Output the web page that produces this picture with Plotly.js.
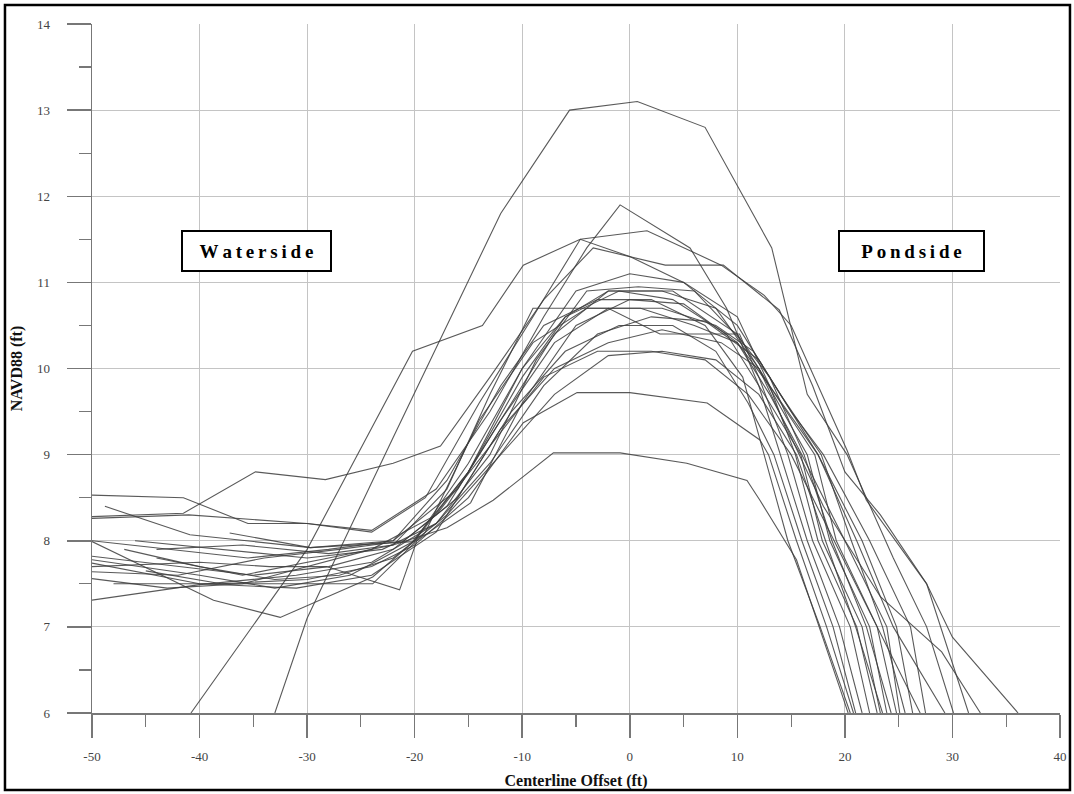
<!DOCTYPE html>
<html>
<head>
<meta charset="utf-8">
<script src="https://cdn.plot.ly/plotly-3.0.1.min.js"></script>
<style>html,body{margin:0;padding:0;background:#fff;}#chart{width:1074px;height:794px;}</style>
</head>
<body>
<div id="chart"></div>
<script>
// Cross-section profiles: x = centerline offset (ft), y = NAVD88 elevation (ft)
const p01x = [-33,-30,-22,-12,-5.6,0.7,7,13.2,16.5,20.2,24.5,27.6,30.1];
const p01y = [6.0,7.1,9.2,11.8,13.0,13.1,12.8,11.4,9.7,9.0,7.8,7.0,6.0];
const p02x = [-40.8,-30,-20.2,-13.7,-9.9,-4.6,1.6,5.9,8.5,12.5,15,20.2,22,27.6,30,36.1];
const p02y = [6.0,7.9,10.2,10.5,11.2,11.5,11.6,11.35,11.2,10.85,10.5,9.05,8.47,7.5,6.88,6.0];
const p03x = [-50,-41.5,-35.5,-30,-24,-18,-13,-8,-4,-0.9,5.6,9,12,14,16.5,19.5,21.6];
const p03y = [8.53,8.5,8.2,8.2,8.12,8.6,9.5,10.6,11.4,11.9,11.4,10.7,9.8,9.0,8.0,7.0,6.0];
const p04x = [-50,-41.5,-34.8,-28.3,-22,-17.6,-13,-8,-3.4,3.3,8.7,13.9,17,20,23.3,27.6,31.5];
const p04y = [8.28,8.32,8.8,8.71,8.9,9.1,9.9,10.8,11.4,11.2,11.2,10.68,9.8,8.8,8.3,7.5,6.0];
const p05x = [-50,-41,-30,-24,-19,-14,-9,-4.6,0,5,10,14,17.8,20.6,23.5,25.6];
const p05y = [8.26,8.3,8.2,8.1,8.5,9.6,10.6,11.5,11.3,11.0,10.5,9.7,9.0,8.0,7.0,6.0];
const p06x = [-48.8,-40.9,-29.7,-20.2,-15,-10,-5,0,5,10,13,15.4,17.5,21.1,23];
const p06y = [8.4,8.07,7.92,7.99,8.8,10.0,10.9,11.1,11.0,10.6,9.8,9.0,8.0,7.0,6.0];
const p07x = [-37.2,-29.7,-22,-16,-11,-7,-2,3,8,12,16.5,18.6,22.3,23.9];
const p07y = [8.09,7.92,8.0,8.6,9.6,10.4,10.9,10.9,10.7,10.0,9.0,8.0,7.0,6.0];
const p08x = [-50,-35.5,-28,-22,-17,-12,-8,-3,2,7,10.5,12.5,14.7,17.7,20.5];
const p08y = [8.0,7.8,7.9,8.0,8.7,9.8,10.5,10.8,10.8,10.5,9.9,9.0,8.0,7.0,6.0];
const p09x = [-50,-38.7,-32.5,-23.9,-20,-15,-10,-6,-1,4,9,13,15.9,17.9,21.6,23.3];
const p09y = [7.99,7.31,7.11,7.58,8.0,8.8,9.9,10.6,10.9,10.8,10.4,9.6,9.0,8.0,7.0,6.0];
const p10x = [-48,-23.9,-19,-14,-9,-4,1,6,10,13,16,20,23.9,25.1];
const p10y = [7.5,7.5,8.1,9.4,10.3,10.7,10.7,10.5,10.3,9.7,9.0,8.0,7.0,6.0];
const p11x = [-50,-42,-35,-28,-22,-17,-12,-7,-2,3,8,11.5,15,18,22.3,26.1,27.5];
const p11y = [7.82,7.7,7.6,7.7,7.9,8.4,9.4,10.3,10.7,10.7,10.5,10.2,9.5,9.0,8.0,7.0,6.0];
const p12x = [-50,-40,-33,-26,-20,-15,-10,-6,-2,4,10,13,17.5,21.6,24.8,26.3];
const p12y = [7.78,7.6,7.45,7.6,8.0,8.9,10.0,10.6,10.9,10.9,10.4,9.8,9.0,8.0,7.0,6.0];
const p13x = [-50,-40,-31,-24,-18,-12,-7,-2,3,8.5,12,15,18,23.3,29,32.6];
const p13y = [7.74,7.5,7.45,7.6,8.1,9.3,10.0,10.3,10.45,10.3,10.0,9.2,8.4,7.35,6.71,6.0];
const p14x = [-50,-42,-34,-27,-21,-16,-11,-6,-1,4,8,11,13.4,16,18.9,21];
const p14y = [7.64,7.6,7.8,7.9,8.0,8.5,9.5,10.2,10.5,10.5,10.2,9.6,9.0,8.0,7.0,6.0];
const p15x = [-50,-43,-36,-30,-24,-18,-13,-8,-3,2,7,11,15,19,23,27];
const p15y = [7.56,7.45,7.5,7.7,7.9,8.3,9.1,9.9,10.2,10.2,10.1,9.7,9.0,8.0,7.0,6.0];
const p16x = [-50,-40,-31,-24,-18,-13,-8,-3,2,7,12,15.5,17.5,21.1,24.5,29.3];
const p16y = [7.31,7.49,7.6,7.75,8.2,8.9,9.8,10.4,10.6,10.55,10.1,9.4,9.0,8.0,7.0,6.0];
const p17x = [-50,-40,-33.5,-28.2,-21.4,-19.8,-14.8,-10,-5,0,5,10,13,17.2,19.2,23,24.8];
const p17y = [7.7,7.75,7.7,7.7,7.43,8.0,8.44,9.6,10.5,10.8,10.75,10.3,9.8,9.0,8.0,7.0,6.0];
const p18x = [-45,-38,-30,-24,-20,-15,-9.9,-4.9,0,7.2,12.1,12.9,15.5,18.3,20.8];
const p18y = [7.65,7.5,7.55,7.7,7.95,8.5,9.37,9.72,9.72,9.6,9.17,9.0,8.0,7.0,6.0];
const p19x = [-44,-36,-28,-22,-17,-12.7,-7.1,-0.9,5.3,10.9,12.1,15.5,19.5,20.3];
const p19y = [7.8,7.6,7.8,7.95,8.15,8.47,9.02,9.02,8.9,8.7,8.47,7.78,6.3,6.0];
const p20x = [-47,-40,-33,-27,-22,-17,-12,-7,-2,3,8,12,15.5,18.2,21,23.5];
const p20y = [7.9,7.7,7.55,7.6,7.8,8.3,9.0,9.7,10.15,10.2,10.1,9.7,9.0,8.0,7.0,6.0];
const p21x = [-44,-36,-28,-22,-17,-13,-9,-2,2.8,10.2,12,14.7,17,20.5,22.3];
const p21y = [7.9,7.95,7.85,7.95,8.6,9.7,10.7,10.7,10.4,10.4,9.9,9.0,8.0,7.0,6.0];
const p22x = [-46,-38,-30,-23,-18,-13,-8.7,-4,0.8,6,10.2,13,16.2,18.8,22,24.3];
const p22y = [8.0,7.9,7.8,7.9,8.2,9.0,10.1,10.9,10.95,10.9,10.35,9.9,9.0,8.0,7.0,6.0];

const profiles = [
  [p01x,p01y],[p02x,p02y],[p03x,p03y],[p04x,p04y],[p05x,p05y],[p06x,p06y],
  [p07x,p07y],[p08x,p08y],[p09x,p09y],[p10x,p10y],[p11x,p11y],[p12x,p12y],
  [p13x,p13y],[p14x,p14y],[p15x,p15y],[p16x,p16y],[p17x,p17y],[p18x,p18y],
  [p19x,p19y],[p20x,p20y],[p21x,p21y],[p22x,p22y]
];

const xTicks = [-50,-40,-30,-20,-10,0,10,20,30,40];
const yTicks = [6,7,8,9,10,11,12,13,14];
const sideLabels = ['Waterside','Pondside'];

function spaced(s){ return s.split('').join('\u2009'); }

const traces = profiles.map(function(p){
  return {x:p[0], y:p[1], type:'scatter', mode:'lines',
          line:{color:'rgba(60,60,60,0.85)', width:1.1}, hoverinfo:'skip', showlegend:false};
});

const serif = 'Liberation Serif, Times New Roman, serif';
const layout = {
  width:1074, height:794,
  margin:{l:92, r:14, t:24, b:81},
  paper_bgcolor:'#fff', plot_bgcolor:'#fff',
  showlegend:false,
  xaxis:{
    range:[-50,40], tickvals:xTicks, ticktext:xTicks.map(String),
    showgrid:true, gridcolor:'#c4c4c4', gridwidth:1.2,
    showline:true, linecolor:'#777', linewidth:1.5,
    ticks:'outside', ticklen:23, tickcolor:'#777', tickwidth:1.5,
    minor:{dtick:5, ticks:'outside', ticklen:12, tickcolor:'#777', tickwidth:1.2, showgrid:false},
    tickfont:{family:serif, size:13, color:'#444'},
    ticklabelstandoff:8,
    zeroline:false,
    title:{text:'<b>Centerline Offset (ft)</b>', font:{family:serif, size:16, color:'#111'}, standoff:11}
  },
  yaxis:{
    range:[6,14], tickvals:yTicks, ticktext:yTicks.map(String),
    showgrid:true, gridcolor:'#c4c4c4', gridwidth:1.2,
    showline:true, linecolor:'#777', linewidth:1.5,
    ticks:'outside', ticklen:24, tickcolor:'#777', tickwidth:1.5,
    minor:{dtick:0.5, ticks:'outside', ticklen:12, tickcolor:'#777', tickwidth:1.2, showgrid:false},
    tickfont:{family:serif, size:13, color:'#444'},
    ticklabelstandoff:14,
    zeroline:false,
    title:{text:'<b>NAVD88 (ft)</b>', font:{family:serif, size:16, color:'#111'}, standoff:10}
  },
  annotations:[
    {x:-34.75, y:11.37, xref:'x', yref:'y', text:'<b>'+spaced(sideLabels[0])+'</b>', showarrow:false,
     font:{family:serif, size:19, color:'#000'}, bgcolor:'#fff', bordercolor:'#000', borderwidth:2,
     borderpad:2, width:143, height:34},
    {x:26.19, y:11.37, xref:'x', yref:'y', text:'<b>'+spaced(sideLabels[1])+'</b>', showarrow:false,
     font:{family:serif, size:19, color:'#000'}, bgcolor:'#fff', bordercolor:'#000', borderwidth:2,
     borderpad:2, width:139, height:34}
  ],
  shapes:[
    {type:'rect', xref:'paper', yref:'paper', x0:-0.0899, x1:1.0103, y0:-0.1118, y1:1.0276,
     line:{color:'#000', width:2.5}, fillcolor:'rgba(0,0,0,0)', layer:'above'}
  ]
};

Plotly.newPlot('chart', traces, layout, {staticPlot:true, displayModeBar:false});
</script>
</body>
</html>
